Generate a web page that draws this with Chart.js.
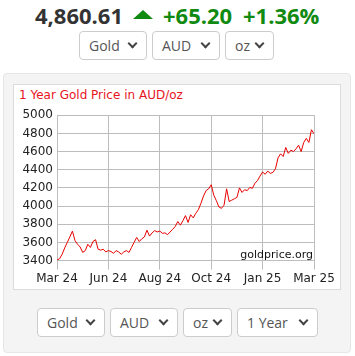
<!DOCTYPE html>
<html lang="en">
<head>
  <meta charset="UTF-8">
  <title>1 Year Gold Price in AUD/oz</title>
  <script src="https://cdn.jsdelivr.net/npm/chart.js"></script>
  <style>
    body { margin: 0; width: 355px; height: 356px; background: #fff; font-family: "Open Sans", sans-serif; position: relative; overflow: hidden; }
    .quote { position: absolute; top: 0; left: 0; width: 355px; height: 30px; font-weight: 700; font-size: 22px; }
    .quote span { position: absolute; top: 0; line-height: 30px; }
    .price { left: 35px; color: #333; }
    .up { left: 163px; color: #118a11; }
    .pct { left: 243px; color: #118a11; }
    .tri { position: absolute; left: 133px; top: 10px; width: 0; height: 0; border-left: 10px solid transparent; border-right: 10px solid transparent; border-bottom: 9px solid #118a11; }
    .sel { position: absolute; box-sizing: border-box; height: 29px; border: 1px solid #ccc; border-radius: 4px; background: #fff; color: #555; font-size: 14px; line-height: 27px; padding-left: 9px; }
    .sel::after { content: ""; position: absolute; right: 10px; top: 8px; width: 5px; height: 5px; border-right: 2px solid #444; border-bottom: 2px solid #444; transform: rotate(45deg); }
    .panel { position: absolute; left: 3px; top: 73px; width: 348px; height: 280px; box-sizing: border-box; background: #f4f4f4; border: 1px solid #e6e6e6; border-radius: 4px; }
    .box { position: absolute; left: 13px; top: 84px; width: 328px; height: 206px; box-sizing: border-box; background: #fff; border: 1px solid #dcdcdc; }
    .title { position: absolute; left: 19px; top: 88px; font-family: "DejaVu Sans", sans-serif; font-size: 12px; color: #e8141e; }
    #wrap { position: absolute; left: 14px; top: 104px; width: 326px; height: 184px; }
  </style>
</head>
<body>
  <div class="quote">
    <span class="price">4,860.61</span>
    <div class="tri"></div>
    <span class="up">+65.20</span>
    <span class="pct">+1.36%</span>
  </div>
  <div class="sel" style="left:79px;top:31px;width:68px;">Gold</div>
  <div class="sel" style="left:152px;top:31px;width:68px;">AUD</div>
  <div class="sel" style="left:225px;top:31px;width:49px;">oz</div>

  <div class="panel"></div>
  <div class="box"></div>
  <div class="title">1 Year Gold Price in AUD/oz</div>
  <div id="wrap"><canvas id="chart" width="326" height="184"></canvas></div>

  <div class="sel" style="left:37px;top:308px;width:68px;">Gold</div>
  <div class="sel" style="left:110px;top:308px;width:68px;">AUD</div>
  <div class="sel" style="left:183px;top:308px;width:49px;">oz</div>
  <div class="sel" style="left:237px;top:308px;width:81px;">1 Year</div>

  <script>
    // tick labels for the x axis (evenly spaced, every 20 points)
    const monthLabels = ['Mar 24', 'Jun 24', 'Aug 24', 'Oct 24', 'Jan 25', 'Mar 25'];

    // gold price in AUD/oz
    const prices = [
      3405, 3420, 3470, 3540, 3600, 3660, 3725, 3620, 3580, 3550,
      3490, 3510, 3580, 3545, 3610, 3630, 3525, 3515, 3525, 3495,
      3510, 3500, 3480, 3510, 3495, 3470, 3495, 3510, 3490, 3545,
      3600, 3655, 3610, 3640, 3660, 3735, 3670, 3705, 3730, 3715,
      3725, 3700, 3705, 3685, 3715, 3745, 3775, 3830, 3790, 3840,
      3895, 3820, 3905, 3870, 3920, 3960, 4030, 4110, 4170, 4190,
      4235, 4120, 4060, 3990, 3975, 4010, 4190, 4050, 4065, 4080,
      4095, 4200, 4150, 4180, 4170, 4205, 4195, 4250, 4280, 4330,
      4375, 4350, 4385, 4360, 4370, 4410, 4530, 4575, 4545, 4645,
      4580, 4615, 4600, 4630, 4670, 4600, 4700, 4745, 4700, 4840,
      4795
    ];

    const points = prices.map((v, i) => ({ x: i, y: v }));

    // watermark in the bottom right corner of the plot
    const watermark = {
      id: 'watermark',
      afterDraw(chart) {
        const ctx = chart.ctx;
        const a = chart.chartArea;
        ctx.save();
        ctx.font = '11px "DejaVu Sans"';
        ctx.fillStyle = '#111';
        ctx.textAlign = 'right';
        ctx.textBaseline = 'alphabetic';
        ctx.fillText('goldprice.org', a.right - 1, a.bottom - 3);
        ctx.restore();
      }
    };

    new Chart(document.getElementById('chart'), {
      type: 'line',
      data: {
        datasets: [{
          data: points,
          borderColor: '#e60000',
          borderWidth: 1,
          pointRadius: 0,
          tension: 0
        }]
      },
      options: {
        responsive: false,
        animation: false,
        layout: { padding: { top: 8, right: 26, bottom: 0, left: 0 } },
        plugins: { legend: { display: false }, tooltip: { enabled: false } },
        scales: {
          x: {
            type: 'linear',
            min: 0,
            max: 100,
            ticks: {
              stepSize: 20,
              color: '#222',
              font: { family: 'DejaVu Sans', size: 12 },
              padding: 2,
              maxRotation: 0,
              callback: v => monthLabels[v / 20]
            },
            grid: { color: '#bdbdbd', tickLength: 9 },
            border: { color: '#bdbdbd' }
          },
          y: {
            min: 3400,
            max: 5000,
            ticks: {
              stepSize: 200,
              color: '#222',
              font: { family: 'DejaVu Sans', size: 12 },
              padding: 4,
              callback: v => String(v)
            },
            grid: { color: '#bdbdbd', drawTicks: false },
            border: { color: '#bdbdbd' },
            afterFit(scale) { scale.width = 43; }
          }
        }
      },
      plugins: [watermark]
    });
  </script>
</body>
</html>
